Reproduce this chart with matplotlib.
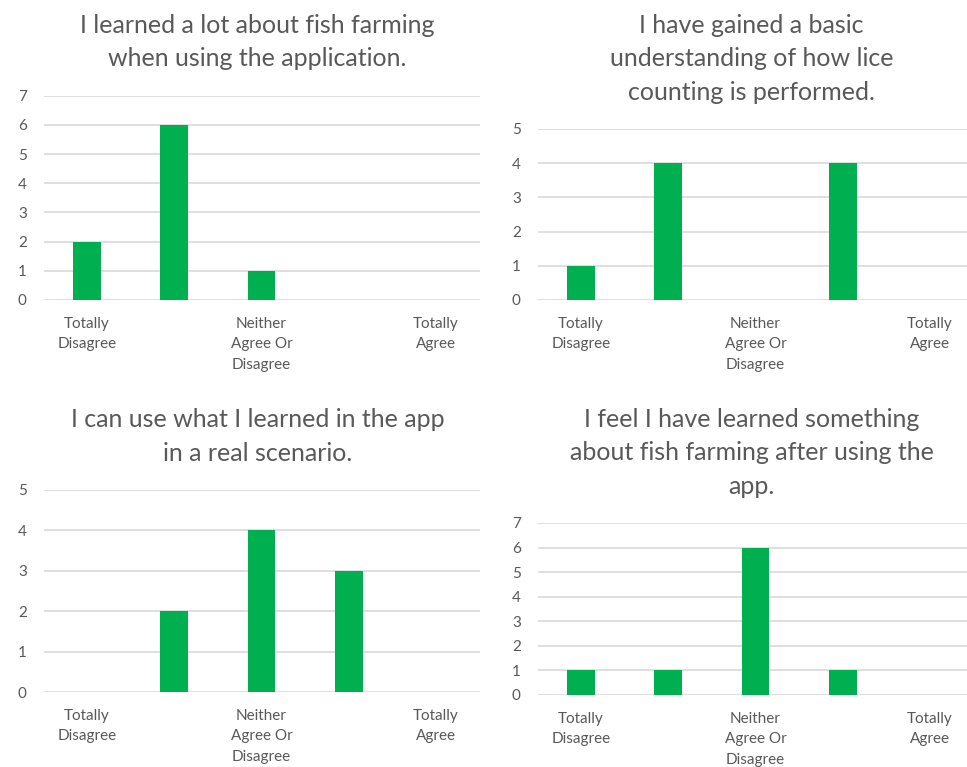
import matplotlib
matplotlib.use("Agg")
import matplotlib.pyplot as plt

plt.rcParams['font.family'] = ['Lato', 'DejaVu Sans']

categories = ["Totally\nDisagree", "", "Neither\nAgree Or\nDisagree", "", "Totally\nAgree"]

titles = [
    "I learned a lot about fish farming\nwhen using the application.",
    "I have gained a basic\nunderstanding of how lice\ncounting is performed.",
    "I can use what I learned in the app\nin a real scenario.",
    "I feel I have learned something\nabout fish farming after using the\napp.",
]

values_learned_lot = [2, 6, 1, 0, 0]
values_lice_counting = [1, 4, 0, 4, 0]
values_real_scenario = [0, 2, 4, 3, 0]
values_learned_something = [1, 1, 6, 1, 0]

y_max = [7, 5, 5, 7]

BAR = "#00B050"
TEXT = "#595959"
GRID = "#D9D9D9"

W, H = 967, 767
fig = plt.figure(figsize=(W / 100, H / 100), dpi=100)

# axes boxes in pixel coordinates: (left, top, right, bottom)
boxes = [
    (43.5, 95.7, 479.5, 300),
    (537.5, 129, 973.5, 300),
    (43.5, 490, 479.5, 692),
    (537.5, 523, 973.5, 695),
]

series = [values_learned_lot, values_lice_counting, values_real_scenario, values_learned_something]

for box, title, vals, ym in zip(boxes, titles, series, y_max):
    l, t, r, b = box
    ax = fig.add_axes([l / W, 1 - b / H, (r - l) / W, (b - t) / H])
    x = list(range(len(categories)))
    ax.bar(x, vals, width=0.32, color=BAR, zorder=3)
    ax.set_xlim(-0.5, len(categories) - 0.5)
    ax.set_ylim(0, ym)
    ax.set_yticks(range(0, ym + 1))
    ax.set_xticks(x)
    ax.set_xticklabels(categories, fontsize=11, color=TEXT, linespacing=1.6)
    ax.tick_params(axis='y', labelsize=11, labelcolor=TEXT, length=0, pad=12)
    ax.tick_params(axis='x', length=0, pad=12)
    for s in ax.spines.values():
        s.set_visible(False)
    ax.grid(axis='y', color=GRID, linewidth=1.2, zorder=0)
    ax.set_axisbelow(True)
    n = title.count("\n") + 1
    ax.annotate(title, xy=(0.5, 1), xycoords='axes fraction',
                xytext=(-4, 37 + (n - 1) * 33 / 2), textcoords='offset pixels',
                ha='center', va='center', fontsize=18, color=TEXT,
                linespacing=1.53, annotation_clip=False)

fig.savefig("out.png", dpi=100, facecolor="white")
